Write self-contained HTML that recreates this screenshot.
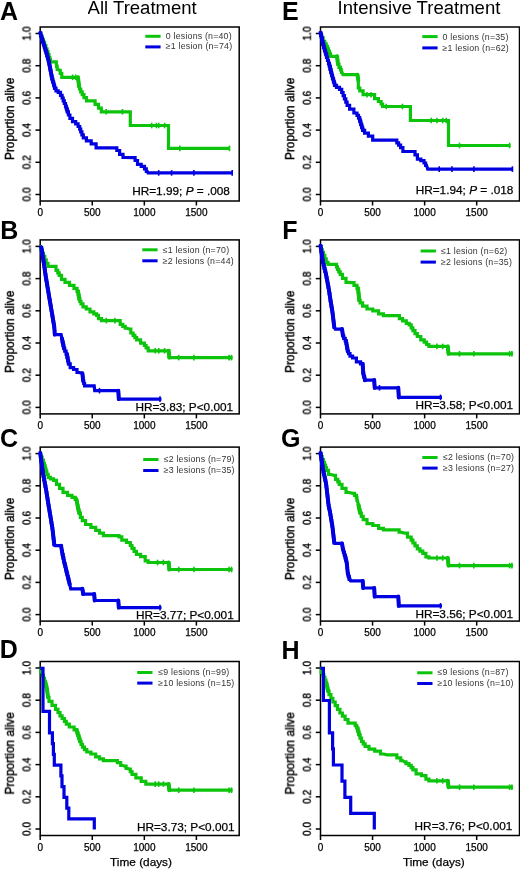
<!DOCTYPE html>
<html><head><meta charset="utf-8"><style>
html,body{margin:0;padding:0;background:#fff;}
svg{display:block;font-family:"Liberation Sans",sans-serif;}
text{will-change:transform;}
.t{stroke:#000;stroke-width:0.25px;}
.r{stroke:#000;stroke-width:0.4px;}
</style></head><body>
<svg width="520" height="870" viewBox="0 0 520 870">
<rect width="520" height="870" fill="#fff"/>
<rect x="40.2" y="27.0" width="199.0" height="174.0" fill="none" stroke="#000" stroke-width="1.5"/>
<line x1="35.5" y1="194.50" x2="40.2" y2="194.50" stroke="#000" stroke-width="1.5"/>
<text transform="translate(30.5,194.50) rotate(-90)" text-anchor="middle" font-size="10" class="r">0.0</text>
<line x1="35.5" y1="162.30" x2="40.2" y2="162.30" stroke="#000" stroke-width="1.5"/>
<text transform="translate(30.5,162.30) rotate(-90)" text-anchor="middle" font-size="10" class="r">0.2</text>
<line x1="35.5" y1="130.10" x2="40.2" y2="130.10" stroke="#000" stroke-width="1.5"/>
<text transform="translate(30.5,130.10) rotate(-90)" text-anchor="middle" font-size="10" class="r">0.4</text>
<line x1="35.5" y1="97.90" x2="40.2" y2="97.90" stroke="#000" stroke-width="1.5"/>
<text transform="translate(30.5,97.90) rotate(-90)" text-anchor="middle" font-size="10" class="r">0.6</text>
<line x1="35.5" y1="65.70" x2="40.2" y2="65.70" stroke="#000" stroke-width="1.5"/>
<text transform="translate(30.5,65.70) rotate(-90)" text-anchor="middle" font-size="10" class="r">0.8</text>
<line x1="35.5" y1="33.50" x2="40.2" y2="33.50" stroke="#000" stroke-width="1.5"/>
<text transform="translate(30.5,33.50) rotate(-90)" text-anchor="middle" font-size="10" class="r">1.0</text>
<line x1="40.20" y1="201.0" x2="40.20" y2="205.5" stroke="#000" stroke-width="1.5"/>
<text x="40.20" y="216.2" text-anchor="middle" font-size="10" class="t">0</text>
<line x1="92.27" y1="201.0" x2="92.27" y2="205.5" stroke="#000" stroke-width="1.5"/>
<text x="92.27" y="216.2" text-anchor="middle" font-size="10" class="t">500</text>
<line x1="144.33" y1="201.0" x2="144.33" y2="205.5" stroke="#000" stroke-width="1.5"/>
<text x="144.33" y="216.2" text-anchor="middle" font-size="10" class="t">1000</text>
<line x1="196.39" y1="201.0" x2="196.39" y2="205.5" stroke="#000" stroke-width="1.5"/>
<text x="196.39" y="216.2" text-anchor="middle" font-size="10" class="t">1500</text>
<text transform="translate(13.9,160.0) rotate(-90)" font-size="11.85" class="r">Proportion alive</text>
<rect x="40.2" y="239.9" width="199.0" height="174.0" fill="none" stroke="#000" stroke-width="1.5"/>
<line x1="35.5" y1="407.40" x2="40.2" y2="407.40" stroke="#000" stroke-width="1.5"/>
<text transform="translate(30.5,407.40) rotate(-90)" text-anchor="middle" font-size="10" class="r">0.0</text>
<line x1="35.5" y1="375.20" x2="40.2" y2="375.20" stroke="#000" stroke-width="1.5"/>
<text transform="translate(30.5,375.20) rotate(-90)" text-anchor="middle" font-size="10" class="r">0.2</text>
<line x1="35.5" y1="343.00" x2="40.2" y2="343.00" stroke="#000" stroke-width="1.5"/>
<text transform="translate(30.5,343.00) rotate(-90)" text-anchor="middle" font-size="10" class="r">0.4</text>
<line x1="35.5" y1="310.80" x2="40.2" y2="310.80" stroke="#000" stroke-width="1.5"/>
<text transform="translate(30.5,310.80) rotate(-90)" text-anchor="middle" font-size="10" class="r">0.6</text>
<line x1="35.5" y1="278.60" x2="40.2" y2="278.60" stroke="#000" stroke-width="1.5"/>
<text transform="translate(30.5,278.60) rotate(-90)" text-anchor="middle" font-size="10" class="r">0.8</text>
<line x1="35.5" y1="246.40" x2="40.2" y2="246.40" stroke="#000" stroke-width="1.5"/>
<text transform="translate(30.5,246.40) rotate(-90)" text-anchor="middle" font-size="10" class="r">1.0</text>
<line x1="40.20" y1="413.9" x2="40.20" y2="418.4" stroke="#000" stroke-width="1.5"/>
<text x="40.20" y="429.1" text-anchor="middle" font-size="10" class="t">0</text>
<line x1="92.27" y1="413.9" x2="92.27" y2="418.4" stroke="#000" stroke-width="1.5"/>
<text x="92.27" y="429.1" text-anchor="middle" font-size="10" class="t">500</text>
<line x1="144.33" y1="413.9" x2="144.33" y2="418.4" stroke="#000" stroke-width="1.5"/>
<text x="144.33" y="429.1" text-anchor="middle" font-size="10" class="t">1000</text>
<line x1="196.39" y1="413.9" x2="196.39" y2="418.4" stroke="#000" stroke-width="1.5"/>
<text x="196.39" y="429.1" text-anchor="middle" font-size="10" class="t">1500</text>
<text transform="translate(13.9,372.9) rotate(-90)" font-size="11.85" class="r">Proportion alive</text>
<rect x="40.2" y="447.1" width="199.0" height="174.0" fill="none" stroke="#000" stroke-width="1.5"/>
<line x1="35.5" y1="614.60" x2="40.2" y2="614.60" stroke="#000" stroke-width="1.5"/>
<text transform="translate(30.5,614.60) rotate(-90)" text-anchor="middle" font-size="10" class="r">0.0</text>
<line x1="35.5" y1="582.40" x2="40.2" y2="582.40" stroke="#000" stroke-width="1.5"/>
<text transform="translate(30.5,582.40) rotate(-90)" text-anchor="middle" font-size="10" class="r">0.2</text>
<line x1="35.5" y1="550.20" x2="40.2" y2="550.20" stroke="#000" stroke-width="1.5"/>
<text transform="translate(30.5,550.20) rotate(-90)" text-anchor="middle" font-size="10" class="r">0.4</text>
<line x1="35.5" y1="518.00" x2="40.2" y2="518.00" stroke="#000" stroke-width="1.5"/>
<text transform="translate(30.5,518.00) rotate(-90)" text-anchor="middle" font-size="10" class="r">0.6</text>
<line x1="35.5" y1="485.80" x2="40.2" y2="485.80" stroke="#000" stroke-width="1.5"/>
<text transform="translate(30.5,485.80) rotate(-90)" text-anchor="middle" font-size="10" class="r">0.8</text>
<line x1="35.5" y1="453.60" x2="40.2" y2="453.60" stroke="#000" stroke-width="1.5"/>
<text transform="translate(30.5,453.60) rotate(-90)" text-anchor="middle" font-size="10" class="r">1.0</text>
<line x1="40.20" y1="621.1" x2="40.20" y2="625.6" stroke="#000" stroke-width="1.5"/>
<text x="40.20" y="636.3" text-anchor="middle" font-size="10" class="t">0</text>
<line x1="92.27" y1="621.1" x2="92.27" y2="625.6" stroke="#000" stroke-width="1.5"/>
<text x="92.27" y="636.3" text-anchor="middle" font-size="10" class="t">500</text>
<line x1="144.33" y1="621.1" x2="144.33" y2="625.6" stroke="#000" stroke-width="1.5"/>
<text x="144.33" y="636.3" text-anchor="middle" font-size="10" class="t">1000</text>
<line x1="196.39" y1="621.1" x2="196.39" y2="625.6" stroke="#000" stroke-width="1.5"/>
<text x="196.39" y="636.3" text-anchor="middle" font-size="10" class="t">1500</text>
<text transform="translate(13.9,580.1) rotate(-90)" font-size="11.85" class="r">Proportion alive</text>
<rect x="40.2" y="661.5" width="199.0" height="174.0" fill="none" stroke="#000" stroke-width="1.5"/>
<line x1="35.5" y1="829.00" x2="40.2" y2="829.00" stroke="#000" stroke-width="1.5"/>
<text transform="translate(30.5,829.00) rotate(-90)" text-anchor="middle" font-size="10" class="r">0.0</text>
<line x1="35.5" y1="796.80" x2="40.2" y2="796.80" stroke="#000" stroke-width="1.5"/>
<text transform="translate(30.5,796.80) rotate(-90)" text-anchor="middle" font-size="10" class="r">0.2</text>
<line x1="35.5" y1="764.60" x2="40.2" y2="764.60" stroke="#000" stroke-width="1.5"/>
<text transform="translate(30.5,764.60) rotate(-90)" text-anchor="middle" font-size="10" class="r">0.4</text>
<line x1="35.5" y1="732.40" x2="40.2" y2="732.40" stroke="#000" stroke-width="1.5"/>
<text transform="translate(30.5,732.40) rotate(-90)" text-anchor="middle" font-size="10" class="r">0.6</text>
<line x1="35.5" y1="700.20" x2="40.2" y2="700.20" stroke="#000" stroke-width="1.5"/>
<text transform="translate(30.5,700.20) rotate(-90)" text-anchor="middle" font-size="10" class="r">0.8</text>
<line x1="35.5" y1="668.00" x2="40.2" y2="668.00" stroke="#000" stroke-width="1.5"/>
<text transform="translate(30.5,668.00) rotate(-90)" text-anchor="middle" font-size="10" class="r">1.0</text>
<line x1="40.20" y1="835.5" x2="40.20" y2="840.0" stroke="#000" stroke-width="1.5"/>
<text x="40.20" y="850.7" text-anchor="middle" font-size="10" class="t">0</text>
<line x1="92.27" y1="835.5" x2="92.27" y2="840.0" stroke="#000" stroke-width="1.5"/>
<text x="92.27" y="850.7" text-anchor="middle" font-size="10" class="t">500</text>
<line x1="144.33" y1="835.5" x2="144.33" y2="840.0" stroke="#000" stroke-width="1.5"/>
<text x="144.33" y="850.7" text-anchor="middle" font-size="10" class="t">1000</text>
<line x1="196.39" y1="835.5" x2="196.39" y2="840.0" stroke="#000" stroke-width="1.5"/>
<text x="196.39" y="850.7" text-anchor="middle" font-size="10" class="t">1500</text>
<text transform="translate(13.9,794.5) rotate(-90)" font-size="11.85" class="r">Proportion alive</text>
<rect x="320.5" y="27.0" width="199.0" height="174.0" fill="none" stroke="#000" stroke-width="1.5"/>
<line x1="315.8" y1="194.50" x2="320.5" y2="194.50" stroke="#000" stroke-width="1.5"/>
<text transform="translate(310.8,194.50) rotate(-90)" text-anchor="middle" font-size="10" class="r">0.0</text>
<line x1="315.8" y1="162.30" x2="320.5" y2="162.30" stroke="#000" stroke-width="1.5"/>
<text transform="translate(310.8,162.30) rotate(-90)" text-anchor="middle" font-size="10" class="r">0.2</text>
<line x1="315.8" y1="130.10" x2="320.5" y2="130.10" stroke="#000" stroke-width="1.5"/>
<text transform="translate(310.8,130.10) rotate(-90)" text-anchor="middle" font-size="10" class="r">0.4</text>
<line x1="315.8" y1="97.90" x2="320.5" y2="97.90" stroke="#000" stroke-width="1.5"/>
<text transform="translate(310.8,97.90) rotate(-90)" text-anchor="middle" font-size="10" class="r">0.6</text>
<line x1="315.8" y1="65.70" x2="320.5" y2="65.70" stroke="#000" stroke-width="1.5"/>
<text transform="translate(310.8,65.70) rotate(-90)" text-anchor="middle" font-size="10" class="r">0.8</text>
<line x1="315.8" y1="33.50" x2="320.5" y2="33.50" stroke="#000" stroke-width="1.5"/>
<text transform="translate(310.8,33.50) rotate(-90)" text-anchor="middle" font-size="10" class="r">1.0</text>
<line x1="320.50" y1="201.0" x2="320.50" y2="205.5" stroke="#000" stroke-width="1.5"/>
<text x="320.50" y="216.2" text-anchor="middle" font-size="10" class="t">0</text>
<line x1="372.56" y1="201.0" x2="372.56" y2="205.5" stroke="#000" stroke-width="1.5"/>
<text x="372.56" y="216.2" text-anchor="middle" font-size="10" class="t">500</text>
<line x1="424.63" y1="201.0" x2="424.63" y2="205.5" stroke="#000" stroke-width="1.5"/>
<text x="424.63" y="216.2" text-anchor="middle" font-size="10" class="t">1000</text>
<line x1="476.69" y1="201.0" x2="476.69" y2="205.5" stroke="#000" stroke-width="1.5"/>
<text x="476.69" y="216.2" text-anchor="middle" font-size="10" class="t">1500</text>
<text transform="translate(294.2,160.0) rotate(-90)" font-size="11.85" class="r">Proportion alive</text>
<rect x="320.5" y="239.9" width="199.0" height="174.0" fill="none" stroke="#000" stroke-width="1.5"/>
<line x1="315.8" y1="407.40" x2="320.5" y2="407.40" stroke="#000" stroke-width="1.5"/>
<text transform="translate(310.8,407.40) rotate(-90)" text-anchor="middle" font-size="10" class="r">0.0</text>
<line x1="315.8" y1="375.20" x2="320.5" y2="375.20" stroke="#000" stroke-width="1.5"/>
<text transform="translate(310.8,375.20) rotate(-90)" text-anchor="middle" font-size="10" class="r">0.2</text>
<line x1="315.8" y1="343.00" x2="320.5" y2="343.00" stroke="#000" stroke-width="1.5"/>
<text transform="translate(310.8,343.00) rotate(-90)" text-anchor="middle" font-size="10" class="r">0.4</text>
<line x1="315.8" y1="310.80" x2="320.5" y2="310.80" stroke="#000" stroke-width="1.5"/>
<text transform="translate(310.8,310.80) rotate(-90)" text-anchor="middle" font-size="10" class="r">0.6</text>
<line x1="315.8" y1="278.60" x2="320.5" y2="278.60" stroke="#000" stroke-width="1.5"/>
<text transform="translate(310.8,278.60) rotate(-90)" text-anchor="middle" font-size="10" class="r">0.8</text>
<line x1="315.8" y1="246.40" x2="320.5" y2="246.40" stroke="#000" stroke-width="1.5"/>
<text transform="translate(310.8,246.40) rotate(-90)" text-anchor="middle" font-size="10" class="r">1.0</text>
<line x1="320.50" y1="413.9" x2="320.50" y2="418.4" stroke="#000" stroke-width="1.5"/>
<text x="320.50" y="429.1" text-anchor="middle" font-size="10" class="t">0</text>
<line x1="372.56" y1="413.9" x2="372.56" y2="418.4" stroke="#000" stroke-width="1.5"/>
<text x="372.56" y="429.1" text-anchor="middle" font-size="10" class="t">500</text>
<line x1="424.63" y1="413.9" x2="424.63" y2="418.4" stroke="#000" stroke-width="1.5"/>
<text x="424.63" y="429.1" text-anchor="middle" font-size="10" class="t">1000</text>
<line x1="476.69" y1="413.9" x2="476.69" y2="418.4" stroke="#000" stroke-width="1.5"/>
<text x="476.69" y="429.1" text-anchor="middle" font-size="10" class="t">1500</text>
<text transform="translate(294.2,372.9) rotate(-90)" font-size="11.85" class="r">Proportion alive</text>
<rect x="320.5" y="447.1" width="199.0" height="174.0" fill="none" stroke="#000" stroke-width="1.5"/>
<line x1="315.8" y1="614.60" x2="320.5" y2="614.60" stroke="#000" stroke-width="1.5"/>
<text transform="translate(310.8,614.60) rotate(-90)" text-anchor="middle" font-size="10" class="r">0.0</text>
<line x1="315.8" y1="582.40" x2="320.5" y2="582.40" stroke="#000" stroke-width="1.5"/>
<text transform="translate(310.8,582.40) rotate(-90)" text-anchor="middle" font-size="10" class="r">0.2</text>
<line x1="315.8" y1="550.20" x2="320.5" y2="550.20" stroke="#000" stroke-width="1.5"/>
<text transform="translate(310.8,550.20) rotate(-90)" text-anchor="middle" font-size="10" class="r">0.4</text>
<line x1="315.8" y1="518.00" x2="320.5" y2="518.00" stroke="#000" stroke-width="1.5"/>
<text transform="translate(310.8,518.00) rotate(-90)" text-anchor="middle" font-size="10" class="r">0.6</text>
<line x1="315.8" y1="485.80" x2="320.5" y2="485.80" stroke="#000" stroke-width="1.5"/>
<text transform="translate(310.8,485.80) rotate(-90)" text-anchor="middle" font-size="10" class="r">0.8</text>
<line x1="315.8" y1="453.60" x2="320.5" y2="453.60" stroke="#000" stroke-width="1.5"/>
<text transform="translate(310.8,453.60) rotate(-90)" text-anchor="middle" font-size="10" class="r">1.0</text>
<line x1="320.50" y1="621.1" x2="320.50" y2="625.6" stroke="#000" stroke-width="1.5"/>
<text x="320.50" y="636.3" text-anchor="middle" font-size="10" class="t">0</text>
<line x1="372.56" y1="621.1" x2="372.56" y2="625.6" stroke="#000" stroke-width="1.5"/>
<text x="372.56" y="636.3" text-anchor="middle" font-size="10" class="t">500</text>
<line x1="424.63" y1="621.1" x2="424.63" y2="625.6" stroke="#000" stroke-width="1.5"/>
<text x="424.63" y="636.3" text-anchor="middle" font-size="10" class="t">1000</text>
<line x1="476.69" y1="621.1" x2="476.69" y2="625.6" stroke="#000" stroke-width="1.5"/>
<text x="476.69" y="636.3" text-anchor="middle" font-size="10" class="t">1500</text>
<text transform="translate(294.2,580.1) rotate(-90)" font-size="11.85" class="r">Proportion alive</text>
<rect x="320.5" y="661.5" width="199.0" height="174.0" fill="none" stroke="#000" stroke-width="1.5"/>
<line x1="315.8" y1="829.00" x2="320.5" y2="829.00" stroke="#000" stroke-width="1.5"/>
<text transform="translate(310.8,829.00) rotate(-90)" text-anchor="middle" font-size="10" class="r">0.0</text>
<line x1="315.8" y1="796.80" x2="320.5" y2="796.80" stroke="#000" stroke-width="1.5"/>
<text transform="translate(310.8,796.80) rotate(-90)" text-anchor="middle" font-size="10" class="r">0.2</text>
<line x1="315.8" y1="764.60" x2="320.5" y2="764.60" stroke="#000" stroke-width="1.5"/>
<text transform="translate(310.8,764.60) rotate(-90)" text-anchor="middle" font-size="10" class="r">0.4</text>
<line x1="315.8" y1="732.40" x2="320.5" y2="732.40" stroke="#000" stroke-width="1.5"/>
<text transform="translate(310.8,732.40) rotate(-90)" text-anchor="middle" font-size="10" class="r">0.6</text>
<line x1="315.8" y1="700.20" x2="320.5" y2="700.20" stroke="#000" stroke-width="1.5"/>
<text transform="translate(310.8,700.20) rotate(-90)" text-anchor="middle" font-size="10" class="r">0.8</text>
<line x1="315.8" y1="668.00" x2="320.5" y2="668.00" stroke="#000" stroke-width="1.5"/>
<text transform="translate(310.8,668.00) rotate(-90)" text-anchor="middle" font-size="10" class="r">1.0</text>
<line x1="320.50" y1="835.5" x2="320.50" y2="840.0" stroke="#000" stroke-width="1.5"/>
<text x="320.50" y="850.7" text-anchor="middle" font-size="10" class="t">0</text>
<line x1="372.56" y1="835.5" x2="372.56" y2="840.0" stroke="#000" stroke-width="1.5"/>
<text x="372.56" y="850.7" text-anchor="middle" font-size="10" class="t">500</text>
<line x1="424.63" y1="835.5" x2="424.63" y2="840.0" stroke="#000" stroke-width="1.5"/>
<text x="424.63" y="850.7" text-anchor="middle" font-size="10" class="t">1000</text>
<line x1="476.69" y1="835.5" x2="476.69" y2="840.0" stroke="#000" stroke-width="1.5"/>
<text x="476.69" y="850.7" text-anchor="middle" font-size="10" class="t">1500</text>
<text transform="translate(294.2,794.5) rotate(-90)" font-size="11.85" class="r">Proportion alive</text>
<path d="M40.2,34.0 L40.8,34.0 L40.8,36.8 L42.1,36.8 L42.1,39.5 L43.4,39.5 L43.4,42.3 L44.0,42.3 L44.6,42.3 L44.6,45.5 L45.9,45.5 L45.9,48.8 L46.5,48.8 L47.0,48.8 L47.0,51.6 L48.0,51.6 L48.0,54.5 L49.0,54.5 L49.0,57.3 L49.5,57.3 L49.8,57.3 L49.8,59.5 L50.4,59.5 L50.4,61.8 L50.7,61.8 L56.3,61.8 L56.5,66.3 L57.2,66.3 L57.2,69.3 L58.0,69.3 L59.5,70.3 L60.2,70.3 L60.2,73.3 L61.0,73.3 L61.8,73.3 L61.8,77.3 L62.6,77.3 L78.0,77.3 L79.0,86.3 L79.5,86.3 L79.5,89.0 L80.7,89.0 L80.7,91.8 L81.2,91.8 L82.2,91.8 L82.2,94.7 L84.0,94.7 L84.0,97.6 L85.0,97.6 L86.5,97.6 L86.5,100.8 L87.9,100.8 L93.7,100.8 L95.1,100.8 L95.1,104.3 L96.5,104.3 L98.5,104.3 L98.5,108.2 L100.4,108.2 L101.3,108.2 L101.3,111.8 L102.3,111.8 L130.3,111.8 L130.3,125.5 L168.5,125.5 L168.5,148.4 L230.0,148.4" fill="none" stroke="#0cc40c" stroke-width="3.2" stroke-linejoin="miter" stroke-linecap="butt"/><path d="M78.0,77.3 L79.0,86.3" fill="none" stroke="#0cc40c" stroke-width="4" stroke-linecap="round"/>
<line x1="72.6" y1="74.5" x2="72.6" y2="80.1" stroke="#0cc40c" stroke-width="1.6"/>
<line x1="75.7" y1="74.5" x2="75.7" y2="80.1" stroke="#0cc40c" stroke-width="1.6"/>
<line x1="106.2" y1="109.0" x2="106.2" y2="114.6" stroke="#0cc40c" stroke-width="1.6"/>
<line x1="122.5" y1="109.0" x2="122.5" y2="114.6" stroke="#0cc40c" stroke-width="1.6"/>
<line x1="151.7" y1="122.7" x2="151.7" y2="128.3" stroke="#0cc40c" stroke-width="1.6"/>
<line x1="156.4" y1="122.7" x2="156.4" y2="128.3" stroke="#0cc40c" stroke-width="1.6"/>
<line x1="158.7" y1="122.7" x2="158.7" y2="128.3" stroke="#0cc40c" stroke-width="1.6"/>
<line x1="164.6" y1="122.7" x2="164.6" y2="128.3" stroke="#0cc40c" stroke-width="1.6"/>
<line x1="179.8" y1="145.6" x2="179.8" y2="151.2" stroke="#0cc40c" stroke-width="1.6"/>
<line x1="229.5" y1="145.6" x2="229.5" y2="151.2" stroke="#0cc40c" stroke-width="1.6"/>
<path d="M40.2,32.8 L40.7,32.8 L40.7,35.8 L41.6,35.8 L41.6,38.8 L42.5,38.8 L42.5,41.8 L43.0,41.8 L43.5,41.8 L43.5,44.6 L44.4,44.6 L44.4,47.5 L45.2,47.5 L45.2,50.3 L45.7,50.3 L46.1,50.3 L46.1,53.0 L46.9,53.0 L46.9,55.8 L47.6,55.8 L47.6,58.5 L48.4,58.5 L48.4,61.3 L48.8,61.3 L49.1,61.3 L49.1,64.2 L49.6,64.2 L49.6,67.1 L50.2,67.1 L50.2,70.0 L50.8,70.0 L50.8,73.0 L51.4,73.0 L51.4,75.9 L51.9,75.9 L51.9,78.8 L52.2,78.8 L52.7,78.8 L52.7,82.0 L53.6,82.0 L53.6,85.1 L54.5,85.1 L54.5,88.3 L55.0,88.3 L56.0,88.3 L56.0,90.8 L57.0,90.8 L58.2,90.8 L58.2,92.3 L59.5,92.3 L60.5,92.3 L60.5,95.3 L61.5,95.3 L62.1,95.3 L62.1,98.0 L63.2,98.0 L63.2,100.8 L63.8,100.8 L64.3,100.8 L64.3,103.5 L65.5,103.5 L65.5,106.3 L66.0,106.3 L66.4,106.3 L66.4,109.0 L67.3,109.0 L67.3,111.8 L67.7,111.8 L68.4,111.8 L68.4,115.0 L69.9,115.0 L69.9,118.3 L70.6,118.3 L72.5,118.3 L72.5,121.6 L74.4,121.6 L75.7,121.6 L75.7,123.8 L77.0,123.8 L78.1,123.8 L78.1,126.5 L79.2,126.5 L79.7,126.5 L79.7,129.2 L80.7,129.2 L80.7,131.8 L81.2,131.8 L81.9,131.8 L81.9,134.8 L83.3,134.8 L83.3,137.8 L84.0,137.8 L86.4,137.8 L86.4,140.9 L88.8,140.9 L91.2,140.9 L91.2,143.8 L93.7,143.8 L96.1,143.8 L96.1,147.8 L98.5,147.8 L116.0,147.8 L116.8,147.8 L116.8,150.5 L117.7,150.5 L119.6,150.5 L119.6,154.3 L121.5,154.3 L123.0,154.3 L123.0,157.5 L124.4,157.5 L134.0,157.6 L135.1,157.6 L135.1,160.5 L136.2,160.5 L137.5,160.5 L137.5,164.3 L138.8,164.3 L141.2,164.3 L141.2,166.3 L143.6,166.3 L144.5,166.3 L144.5,168.8 L146.3,168.8 L146.3,171.3 L147.2,171.3 L148.0,172.9 L232.5,172.9" fill="none" stroke="#0000e0" stroke-width="3.2" stroke-linejoin="miter" stroke-linecap="butt"/><path d="M40.2,32.8 L43.0,41.8 M43.0,41.8 L45.7,50.3 M45.7,50.3 L48.8,61.3 M48.8,61.3 L52.2,78.8 M52.2,78.8 L55.0,88.3 M66.0,106.3 L67.7,111.8" fill="none" stroke="#0000e0" stroke-width="4" stroke-linecap="round"/>
<line x1="158.7" y1="170.1" x2="158.7" y2="175.7" stroke="#0000e0" stroke-width="1.6"/>
<line x1="171.6" y1="170.1" x2="171.6" y2="175.7" stroke="#0000e0" stroke-width="1.6"/>
<line x1="193.9" y1="170.1" x2="193.9" y2="175.7" stroke="#0000e0" stroke-width="1.6"/>
<line x1="232.2" y1="170.1" x2="232.2" y2="175.7" stroke="#0000e0" stroke-width="1.6"/>
<path d="M320.5,34.0 L321.4,34.0 L321.4,37.6 L323.1,37.6 L323.1,41.3 L324.0,41.3 L324.8,41.3 L324.8,43.8 L326.2,43.8 L326.2,46.3 L327.0,46.3 L327.5,46.3 L327.5,48.8 L328.5,48.8 L328.5,51.3 L329.0,51.3 L329.5,51.3 L329.5,53.8 L330.5,53.8 L330.5,56.3 L331.0,56.3 L337.0,56.3 L338.0,64.3 L339.0,64.3 L339.0,67.3 L340.0,67.3 L340.5,67.3 L340.5,69.8 L341.5,69.8 L341.5,72.3 L342.0,72.3 L343.0,74.7 L357.5,74.7 L358.3,80.3 L358.3,88.0 L359.8,88.0 L359.8,90.9 L361.2,90.9 L363.1,90.9 L363.1,94.7 L365.0,94.7 L372.7,94.7 L374.6,94.7 L374.6,98.6 L376.5,98.6 L378.4,98.6 L378.4,101.5 L380.4,101.5 L381.1,101.5 L381.1,104.0 L382.6,104.0 L382.6,106.5 L383.3,106.5 L410.4,106.5 L410.4,120.5 L448.5,120.5 L448.5,145.5 L510.5,145.5" fill="none" stroke="#0cc40c" stroke-width="3.2" stroke-linejoin="miter" stroke-linecap="butt"/><path d="M337.0,56.3 L338.0,64.3 M357.5,74.7 L358.3,80.3" fill="none" stroke="#0cc40c" stroke-width="4" stroke-linecap="round"/>
<line x1="367.0" y1="91.9" x2="367.0" y2="97.5" stroke="#0cc40c" stroke-width="1.6"/>
<line x1="371.0" y1="91.9" x2="371.0" y2="97.5" stroke="#0cc40c" stroke-width="1.6"/>
<line x1="386.2" y1="103.7" x2="386.2" y2="109.3" stroke="#0cc40c" stroke-width="1.6"/>
<line x1="402.5" y1="103.7" x2="402.5" y2="109.3" stroke="#0cc40c" stroke-width="1.6"/>
<line x1="431.2" y1="117.7" x2="431.2" y2="123.3" stroke="#0cc40c" stroke-width="1.6"/>
<line x1="436.9" y1="117.7" x2="436.9" y2="123.3" stroke="#0cc40c" stroke-width="1.6"/>
<line x1="442.7" y1="117.7" x2="442.7" y2="123.3" stroke="#0cc40c" stroke-width="1.6"/>
<line x1="446.2" y1="117.7" x2="446.2" y2="123.3" stroke="#0cc40c" stroke-width="1.6"/>
<line x1="459.5" y1="142.7" x2="459.5" y2="148.3" stroke="#0cc40c" stroke-width="1.6"/>
<line x1="509.6" y1="142.7" x2="509.6" y2="148.3" stroke="#0cc40c" stroke-width="1.6"/>
<path d="M320.5,32.8 L320.9,32.8 L320.9,35.7 L321.6,35.7 L321.6,38.6 L322.2,38.6 L322.2,41.5 L322.9,41.5 L322.9,44.4 L323.6,44.4 L323.6,47.3 L324.0,47.3 L324.5,47.3 L324.5,50.6 L325.5,50.6 L325.5,54.0 L326.5,54.0 L326.5,57.3 L327.0,57.3 L327.5,57.3 L327.5,60.3 L328.5,60.3 L328.5,63.3 L329.0,63.3 L329.4,63.3 L329.4,66.3 L330.1,66.3 L330.1,69.3 L330.9,69.3 L330.9,72.3 L331.6,72.3 L331.6,75.3 L332.0,75.3 L332.5,75.3 L332.5,78.6 L333.5,78.6 L333.5,82.0 L334.5,82.0 L334.5,85.3 L335.0,85.3 L336.5,85.3 L336.5,87.3 L338.0,87.3 L339.5,87.3 L339.5,89.3 L341.0,89.3 L341.7,89.3 L341.7,92.5 L343.1,92.5 L343.1,95.7 L343.8,95.7 L344.4,95.7 L344.4,98.9 L345.8,98.9 L345.8,102.1 L347.1,102.1 L347.1,105.3 L347.7,105.3 L349.6,105.3 L349.6,109.1 L351.5,109.1 L353.9,109.1 L353.9,113.0 L356.3,113.0 L357.0,113.0 L357.0,115.4 L358.5,115.4 L358.5,117.8 L359.2,117.8 L359.7,117.8 L359.7,121.2 L360.7,121.2 L360.7,124.5 L361.2,124.5 L361.7,124.5 L361.7,127.4 L362.6,127.4 L362.6,130.3 L363.1,130.3 L364.6,130.3 L364.6,133.2 L366.0,133.2 L368.4,133.2 L368.4,136.1 L370.8,136.1 L372.7,136.1 L372.7,140.1 L374.6,140.1 L395.8,140.1 L396.8,140.1 L396.8,142.8 L397.7,142.8 L398.6,142.8 L398.6,145.2 L400.6,145.2 L400.6,147.6 L401.5,147.6 L402.9,147.6 L402.9,151.5 L404.4,151.5 L413.8,151.5 L415.0,151.5 L415.0,154.9 L416.2,154.9 L417.4,154.9 L417.4,159.1 L418.5,159.1 L420.8,159.1 L420.8,160.7 L423.1,160.7 L424.0,160.7 L424.0,163.0 L425.6,163.0 L425.6,165.3 L426.5,165.3 L427.7,169.1 L513.1,169.1" fill="none" stroke="#0000e0" stroke-width="3.2" stroke-linejoin="miter" stroke-linecap="butt"/><path d="M320.5,32.8 L324.0,47.3 M324.0,47.3 L327.0,57.3 M329.0,63.3 L332.0,75.3 M332.0,75.3 L335.0,85.3 M359.2,117.8 L361.2,124.5 M361.2,124.5 L363.1,130.3" fill="none" stroke="#0000e0" stroke-width="4" stroke-linecap="round"/>
<line x1="439.2" y1="166.3" x2="439.2" y2="171.9" stroke="#0000e0" stroke-width="1.6"/>
<line x1="451.9" y1="166.3" x2="451.9" y2="171.9" stroke="#0000e0" stroke-width="1.6"/>
<line x1="473.9" y1="166.3" x2="473.9" y2="171.9" stroke="#0000e0" stroke-width="1.6"/>
<line x1="512.4" y1="166.3" x2="512.4" y2="171.9" stroke="#0000e0" stroke-width="1.6"/>
<path d="M40.2,246.7 L40.8,246.7 L40.8,249.9 L42.1,249.9 L42.1,253.1 L43.4,253.1 L43.4,256.3 L44.0,256.3 L44.8,256.3 L44.8,259.8 L46.2,259.8 L46.2,263.3 L47.0,263.3 L48.0,263.3 L48.0,266.3 L49.0,266.3 L55.0,266.3 L56.0,266.3 L56.0,270.3 L57.0,270.3 L57.8,270.3 L57.8,272.8 L59.2,272.8 L59.2,275.3 L60.0,275.3 L61.5,275.3 L61.5,279.3 L63.0,279.3 L65.0,279.3 L65.0,282.3 L67.0,282.3 L69.5,282.3 L69.5,285.3 L72.0,285.3 L74.0,285.3 L74.0,288.3 L76.0,288.3 L77.0,288.3 L77.0,291.3 L78.0,291.3 L78.3,291.3 L78.3,295.1 L79.0,295.1 L79.0,298.8 L79.3,298.8 L79.8,298.8 L79.8,301.3 L81.0,301.3 L81.0,303.8 L81.5,303.8 L83.0,303.8 L83.0,306.8 L84.5,306.8 L86.2,306.8 L86.2,309.0 L88.0,309.0 L90.0,309.0 L90.0,311.8 L92.0,311.8 L93.8,311.8 L93.8,313.8 L95.7,313.8 L96.6,313.8 L96.6,315.3 L97.5,315.3 L98.5,315.3 L98.5,318.6 L99.5,318.6 L101.5,318.6 L101.5,320.6 L103.4,320.6 L118.8,320.6 L120.2,320.6 L120.2,324.3 L121.7,324.3 L122.8,324.3 L122.8,326.3 L124.0,326.3 L125.2,326.3 L125.2,328.2 L126.5,328.2 L129.4,329.0 L130.8,329.0 L130.8,333.0 L132.2,333.0 L133.1,333.0 L133.1,335.3 L134.0,335.3 L134.9,335.3 L134.9,337.6 L136.7,337.6 L136.7,339.8 L137.6,339.8 L140.6,339.8 L140.6,343.1 L143.5,343.1 L144.4,343.1 L144.4,345.5 L146.1,345.5 L146.1,347.8 L147.0,347.8 L148.2,347.8 L148.2,350.8 L149.3,350.8 L168.7,350.8 L169.3,357.6 L232.6,357.6" fill="none" stroke="#0cc40c" stroke-width="3.2" stroke-linejoin="miter" stroke-linecap="butt"/><path d="M78.0,291.3 L79.3,298.8 M168.7,350.8 L169.3,357.6" fill="none" stroke="#0cc40c" stroke-width="4" stroke-linecap="round"/>
<line x1="106.3" y1="317.8" x2="106.3" y2="323.4" stroke="#0cc40c" stroke-width="1.6"/>
<line x1="114.9" y1="317.8" x2="114.9" y2="323.4" stroke="#0cc40c" stroke-width="1.6"/>
<line x1="155.2" y1="348.0" x2="155.2" y2="353.6" stroke="#0cc40c" stroke-width="1.6"/>
<line x1="158.7" y1="348.0" x2="158.7" y2="353.6" stroke="#0cc40c" stroke-width="1.6"/>
<line x1="164.6" y1="348.0" x2="164.6" y2="353.6" stroke="#0cc40c" stroke-width="1.6"/>
<line x1="178.7" y1="354.8" x2="178.7" y2="360.4" stroke="#0cc40c" stroke-width="1.6"/>
<line x1="193.9" y1="354.8" x2="193.9" y2="360.4" stroke="#0cc40c" stroke-width="1.6"/>
<line x1="229.1" y1="354.8" x2="229.1" y2="360.4" stroke="#0cc40c" stroke-width="1.6"/>
<line x1="231.5" y1="354.8" x2="231.5" y2="360.4" stroke="#0cc40c" stroke-width="1.6"/>
<path d="M40.2,245.8 L41.3,247.6 L41.6,247.6 L41.6,250.9 L42.1,250.9 L42.1,254.3 L42.7,254.3 L42.7,257.6 L43.2,257.6 L43.2,260.9 L43.5,260.9 L43.7,260.9 L43.7,263.7 L44.1,263.7 L44.1,266.4 L44.5,266.4 L44.5,269.2 L44.9,269.2 L44.9,271.9 L45.3,271.9 L45.3,274.7 L45.7,274.7 L45.7,277.4 L45.9,277.4 L46.1,277.4 L46.1,280.2 L46.6,280.2 L46.6,282.9 L47.1,282.9 L47.1,285.7 L47.5,285.7 L47.5,288.5 L48.0,288.5 L48.0,291.2 L48.5,291.2 L48.5,294.0 L48.7,294.0 L48.9,294.0 L48.9,296.8 L49.4,296.8 L49.4,299.5 L49.9,299.5 L49.9,302.2 L50.3,302.2 L50.3,305.0 L50.8,305.0 L50.8,307.8 L51.3,307.8 L51.3,310.5 L51.5,310.5 L51.7,310.5 L51.7,313.3 L52.2,313.3 L52.2,316.0 L52.7,316.0 L52.7,318.8 L53.1,318.8 L53.1,321.6 L53.6,321.6 L53.6,324.3 L54.1,324.3 L54.1,327.1 L54.3,327.1 L54.8,334.6 L61.1,334.6 L62.0,338.8 L62.3,338.8 L62.3,342.0 L63.0,342.0 L63.0,345.1 L63.7,345.1 L63.7,348.3 L64.0,348.3 L64.7,348.3 L64.7,351.2 L66.1,351.2 L66.1,354.1 L66.8,354.1 L67.1,354.1 L67.1,357.3 L67.8,357.3 L67.8,360.6 L68.5,360.6 L68.5,363.8 L68.8,363.8 L70.2,363.8 L70.2,367.6 L71.7,367.6 L73.6,367.6 L73.6,369.5 L75.5,369.5 L77.0,369.5 L77.0,372.4 L78.4,372.4 L82.4,373.3 L83.2,381.1 L83.7,381.1 L83.7,383.5 L84.6,383.5 L84.6,385.9 L85.1,385.9 L94.2,385.9 L94.7,390.7 L118.3,390.7 L118.8,399.1 L161.5,399.1" fill="none" stroke="#0000e0" stroke-width="3.2" stroke-linejoin="miter" stroke-linecap="butt"/><path d="M41.3,247.6 L43.5,260.9 M43.5,260.9 L45.9,277.4 M45.9,277.4 L48.7,294.0 M48.7,294.0 L51.5,310.5 M51.5,310.5 L54.3,327.1 M54.3,327.1 L54.8,334.6 M62.0,338.8 L64.0,348.3 M66.8,354.1 L68.8,363.8 M82.4,373.3 L83.2,381.1 M118.3,390.7 L118.8,399.1" fill="none" stroke="#0000e0" stroke-width="4" stroke-linecap="round"/>
<line x1="99.5" y1="387.9" x2="99.5" y2="393.5" stroke="#0000e0" stroke-width="1.6"/>
<line x1="160.0" y1="396.3" x2="160.0" y2="401.9" stroke="#0000e0" stroke-width="1.6"/>
<path d="M320.5,246.7 L321.1,246.7 L321.1,249.6 L322.2,249.6 L322.2,252.4 L323.4,252.4 L323.4,255.3 L324.0,255.3 L324.8,255.3 L324.8,258.8 L326.2,258.8 L326.2,262.3 L327.0,262.3 L328.0,262.3 L328.0,264.3 L329.0,264.3 L336.0,264.3 L336.5,264.3 L336.5,266.8 L337.5,266.8 L337.5,269.3 L338.0,269.3 L338.8,269.3 L338.8,271.8 L340.2,271.8 L340.2,274.3 L341.0,274.3 L342.5,274.3 L342.5,278.3 L344.0,278.3 L346.0,278.3 L346.0,282.3 L348.0,282.3 L352.0,282.7 L354.0,282.7 L354.0,285.3 L356.0,285.3 L357.0,285.3 L357.0,288.3 L358.0,288.3 L358.2,288.3 L358.2,291.3 L358.5,291.3 L358.5,294.3 L358.8,294.3 L358.8,297.3 L359.1,297.3 L359.1,300.3 L359.3,300.3 L360.1,300.3 L360.1,302.8 L361.0,302.8 L362.6,302.8 L362.6,306.1 L364.2,306.1 L367.0,306.1 L367.0,309.0 L369.9,309.0 L372.8,309.0 L372.8,310.9 L375.7,310.9 L378.6,310.9 L378.6,313.8 L381.5,313.8 L383.4,313.8 L383.4,315.7 L385.3,315.7 L398.0,315.7 L399.4,315.7 L399.4,318.6 L400.7,318.6 L402.6,318.6 L402.6,320.8 L404.6,320.8 L406.3,320.8 L406.3,323.3 L408.0,323.3 L409.2,323.3 L409.2,324.9 L410.4,324.9 L411.2,324.9 L411.2,327.8 L412.9,327.8 L412.9,330.7 L413.8,330.7 L415.0,330.7 L415.0,333.6 L417.3,333.6 L417.3,336.5 L418.5,336.5 L420.8,336.5 L420.8,339.9 L423.1,339.9 L424.2,339.9 L424.2,342.2 L426.6,342.2 L426.6,344.5 L427.7,344.5 L428.9,344.5 L428.9,346.4 L430.0,346.4 L447.8,346.4 L448.5,353.8 L513.1,353.8" fill="none" stroke="#0cc40c" stroke-width="3.2" stroke-linejoin="miter" stroke-linecap="butt"/><path d="M358.0,288.3 L359.3,300.3 M447.8,346.4 L448.5,353.8" fill="none" stroke="#0cc40c" stroke-width="4" stroke-linecap="round"/>
<line x1="436.9" y1="343.6" x2="436.9" y2="349.2" stroke="#0cc40c" stroke-width="1.6"/>
<line x1="442.7" y1="343.6" x2="442.7" y2="349.2" stroke="#0cc40c" stroke-width="1.6"/>
<line x1="459.5" y1="351.0" x2="459.5" y2="356.6" stroke="#0cc40c" stroke-width="1.6"/>
<line x1="473.8" y1="351.0" x2="473.8" y2="356.6" stroke="#0cc40c" stroke-width="1.6"/>
<line x1="509.6" y1="351.0" x2="509.6" y2="356.6" stroke="#0cc40c" stroke-width="1.6"/>
<line x1="511.9" y1="351.0" x2="511.9" y2="356.6" stroke="#0cc40c" stroke-width="1.6"/>
<path d="M320.5,245.8 L320.7,245.8 L320.7,248.6 L321.1,248.6 L321.1,251.3 L321.5,251.3 L321.5,254.1 L322.0,254.1 L322.0,256.8 L322.4,256.8 L322.4,259.6 L322.8,259.6 L322.8,262.3 L323.0,262.3 L323.4,262.3 L323.4,265.3 L324.1,265.3 L324.1,268.3 L324.9,268.3 L324.9,271.3 L325.6,271.3 L325.6,274.3 L326.0,274.3 L326.3,274.3 L326.3,277.5 L326.9,277.5 L326.9,280.7 L327.5,280.7 L327.5,283.9 L328.1,283.9 L328.1,287.1 L328.7,287.1 L328.7,290.3 L329.0,290.3 L329.2,290.3 L329.2,293.6 L329.8,293.6 L329.8,297.0 L330.2,297.0 L330.2,300.3 L330.5,300.3 L330.7,300.3 L330.7,303.2 L331.2,303.2 L331.2,306.1 L331.7,306.1 L331.7,308.9 L332.2,308.9 L332.2,311.8 L332.4,311.8 L332.6,311.8 L332.6,314.9 L333.0,314.9 L333.0,318.0 L333.4,318.0 L333.4,321.0 L333.7,321.0 L333.7,324.1 L334.1,324.1 L334.1,327.2 L334.3,327.2 L335.3,329.1 L342.0,329.1 L343.0,335.9 L343.7,335.9 L343.7,338.3 L345.2,338.3 L345.2,340.7 L345.9,340.7 L346.1,340.7 L346.1,343.4 L346.6,343.4 L346.6,346.0 L347.1,346.0 L347.1,348.6 L347.6,348.6 L347.6,351.3 L347.8,351.3 L348.5,351.3 L348.5,353.7 L350.0,353.7 L350.0,356.1 L350.7,356.1 L352.6,356.1 L352.6,358.0 L354.5,358.0 L356.4,358.0 L356.4,361.8 L358.4,361.8 L360.5,361.8 L360.5,363.8 L362.7,363.8 L363.2,373.4 L363.7,373.4 L363.7,376.8 L364.6,376.8 L364.6,380.1 L365.1,380.1 L374.2,380.1 L374.7,387.8 L398.3,387.8 L398.8,397.4 L442.0,397.4" fill="none" stroke="#0000e0" stroke-width="3.2" stroke-linejoin="miter" stroke-linecap="butt"/><path d="M320.5,245.8 L323.0,262.3 M323.0,262.3 L326.0,274.3 M326.0,274.3 L329.0,290.3 M329.0,290.3 L330.5,300.3 M330.5,300.3 L332.4,311.8 M332.4,311.8 L334.3,327.2 M342.0,329.1 L343.0,335.9 M345.9,340.7 L347.8,351.3 M362.7,363.8 L363.2,373.4 M363.2,373.4 L365.1,380.1 M374.2,380.1 L374.7,387.8 M398.3,387.8 L398.8,397.4" fill="none" stroke="#0000e0" stroke-width="4" stroke-linecap="round"/>
<line x1="379.5" y1="385.0" x2="379.5" y2="390.6" stroke="#0000e0" stroke-width="1.6"/>
<line x1="440.5" y1="394.6" x2="440.5" y2="400.2" stroke="#0000e0" stroke-width="1.6"/>
<path d="M40.2,453.9 L40.8,453.9 L40.8,457.0 L42.1,457.0 L42.1,460.2 L43.4,460.2 L43.4,463.3 L44.0,463.3 L44.3,463.3 L44.3,466.0 L45.0,466.0 L45.0,468.6 L45.7,468.6 L45.7,471.3 L46.0,471.3 L46.8,471.3 L46.8,474.3 L48.2,474.3 L48.2,477.3 L49.0,477.3 L50.5,477.3 L50.5,478.9 L52.0,478.9 L53.5,478.9 L53.5,480.3 L55.0,480.3 L56.5,480.3 L56.5,484.3 L58.0,484.3 L59.5,484.3 L59.5,488.3 L61.0,488.3 L63.0,488.3 L63.0,492.3 L65.0,492.3 L67.5,492.3 L67.5,495.3 L70.0,495.3 L72.0,495.3 L72.0,497.3 L74.0,497.3 L75.2,497.3 L75.2,499.3 L76.5,499.3 L77.5,505.3 L77.8,505.3 L77.8,507.9 L78.4,507.9 L78.4,510.4 L79.0,510.4 L79.0,513.0 L79.3,513.0 L80.4,513.0 L80.4,517.3 L81.5,517.3 L82.3,517.3 L82.3,520.7 L83.2,520.7 L85.6,520.7 L85.6,524.5 L88.0,524.5 L90.9,524.5 L90.9,527.4 L93.8,527.4 L95.7,527.4 L95.7,530.3 L97.6,530.3 L99.5,530.3 L99.5,533.2 L101.5,533.2 L103.4,533.2 L103.4,535.6 L105.3,535.6 L118.0,535.6 L119.0,535.6 L119.0,536.8 L120.0,536.8 L121.8,536.8 L121.8,540.2 L123.5,540.2 L126.5,540.2 L126.5,542.5 L129.4,542.5 L130.3,542.5 L130.3,545.5 L132.0,545.5 L132.0,548.4 L132.9,548.4 L134.1,548.4 L134.1,551.3 L136.4,551.3 L136.4,554.3 L137.6,554.3 L140.6,554.3 L140.6,556.6 L143.5,556.6 L145.2,556.6 L145.2,560.8 L147.0,560.8 L148.2,560.8 L148.2,562.5 L149.3,562.5 L168.7,562.5 L169.3,569.5 L232.6,569.5" fill="none" stroke="#0cc40c" stroke-width="3.2" stroke-linejoin="miter" stroke-linecap="butt"/><path d="M44.0,463.3 L46.0,471.3 M76.5,499.3 L77.5,505.3 M77.5,505.3 L79.3,513.0 M168.7,562.5 L169.3,569.5" fill="none" stroke="#0cc40c" stroke-width="4" stroke-linecap="round"/>
<line x1="157.5" y1="559.7" x2="157.5" y2="565.3" stroke="#0cc40c" stroke-width="1.6"/>
<line x1="163.4" y1="559.7" x2="163.4" y2="565.3" stroke="#0cc40c" stroke-width="1.6"/>
<line x1="178.7" y1="566.7" x2="178.7" y2="572.3" stroke="#0cc40c" stroke-width="1.6"/>
<line x1="193.9" y1="566.7" x2="193.9" y2="572.3" stroke="#0cc40c" stroke-width="1.6"/>
<line x1="229.1" y1="566.7" x2="229.1" y2="572.3" stroke="#0cc40c" stroke-width="1.6"/>
<line x1="231.5" y1="566.7" x2="231.5" y2="572.3" stroke="#0cc40c" stroke-width="1.6"/>
<path d="M40.2,453.1 L40.4,453.1 L40.4,456.0 L40.8,456.0 L40.8,458.9 L41.2,458.9 L41.2,461.8 L41.6,461.8 L41.6,464.6 L42.0,464.6 L42.0,467.5 L42.4,467.5 L42.4,470.4 L42.8,470.4 L42.8,473.3 L43.0,473.3 L43.3,473.3 L43.3,476.5 L43.9,476.5 L43.9,479.7 L44.5,479.7 L44.5,482.9 L45.1,482.9 L45.1,486.1 L45.7,486.1 L45.7,489.3 L46.0,489.3 L46.3,489.3 L46.3,492.5 L46.8,492.5 L46.8,495.7 L47.3,495.7 L47.3,498.9 L47.8,498.9 L47.8,502.1 L48.3,502.1 L48.3,505.3 L48.6,505.3 L48.8,505.3 L48.8,508.2 L49.3,508.2 L49.3,511.0 L49.8,511.0 L49.8,513.9 L50.3,513.9 L50.3,516.8 L50.5,516.8 L50.7,516.8 L50.7,519.7 L51.2,519.7 L51.2,522.6 L51.7,522.6 L51.7,525.5 L52.2,525.5 L52.2,528.4 L52.4,528.4 L52.6,528.4 L52.6,531.7 L53.0,531.7 L53.0,534.9 L53.3,534.9 L53.3,538.2 L53.7,538.2 L53.7,541.4 L54.1,541.4 L54.1,544.7 L54.3,544.7 L55.3,545.7 L61.1,545.7 L62.0,551.5 L62.3,551.5 L62.3,554.7 L63.0,554.7 L63.0,557.9 L63.7,557.9 L63.7,561.1 L64.0,561.1 L64.3,561.1 L64.3,563.7 L65.0,563.7 L65.0,566.2 L65.6,566.2 L65.6,568.8 L65.9,568.8 L66.2,568.8 L66.2,571.4 L66.8,571.4 L66.8,573.9 L67.5,573.9 L67.5,576.5 L67.8,576.5 L68.1,576.5 L68.1,579.0 L68.8,579.0 L68.8,581.6 L69.4,581.6 L69.4,584.1 L69.7,584.1 L70.7,588.8 L82.4,588.8 L83.2,594.1 L94.2,594.1 L94.7,600.5 L118.3,600.5 L118.8,607.6 L161.5,607.6" fill="none" stroke="#0000e0" stroke-width="3.2" stroke-linejoin="miter" stroke-linecap="butt"/><path d="M40.2,453.1 L43.0,473.3 M43.0,473.3 L46.0,489.3 M46.0,489.3 L48.6,505.3 M48.6,505.3 L50.5,516.8 M50.5,516.8 L52.4,528.4 M52.4,528.4 L54.3,544.7 M61.1,545.7 L62.0,551.5 M62.0,551.5 L64.0,561.1 M64.0,561.1 L65.9,568.8 M65.9,568.8 L67.8,576.5 M67.8,576.5 L69.7,584.1 M82.4,588.8 L83.2,594.1 M94.2,594.1 L94.7,600.5 M118.3,600.5 L118.8,607.6" fill="none" stroke="#0000e0" stroke-width="4" stroke-linecap="round"/>
<line x1="160.0" y1="604.8" x2="160.0" y2="610.4" stroke="#0000e0" stroke-width="1.6"/>
<path d="M320.5,453.9 L321.1,453.9 L321.1,456.7 L322.2,456.7 L322.2,459.5 L323.4,459.5 L323.4,462.3 L324.0,462.3 L324.5,462.3 L324.5,465.0 L325.5,465.0 L325.5,467.6 L326.5,467.6 L326.5,470.3 L327.0,470.3 L328.5,470.3 L328.5,474.3 L330.0,474.3 L334.0,475.3 L335.5,475.3 L335.5,479.3 L337.0,479.3 L337.8,479.3 L337.8,481.8 L339.2,481.8 L339.2,484.3 L340.0,484.3 L342.0,484.3 L342.0,488.3 L344.0,488.3 L346.0,488.3 L346.0,492.3 L348.0,492.3 L353.0,493.3 L354.5,493.3 L354.5,495.3 L356.0,495.3 L356.4,495.3 L356.4,497.8 L357.0,497.8 L357.0,500.3 L357.4,500.3 L358.5,505.3 L358.8,505.3 L358.8,507.9 L359.4,507.9 L359.4,510.4 L360.0,510.4 L360.0,513.0 L360.3,513.0 L361.3,513.0 L361.3,516.3 L363.2,516.3 L363.2,519.7 L364.2,519.7 L367.0,519.7 L367.0,523.6 L369.9,523.6 L372.8,523.6 L372.8,525.5 L375.7,525.5 L378.6,525.5 L378.6,528.4 L381.5,528.4 L383.4,528.4 L383.4,529.8 L385.3,529.8 L397.5,529.8 L399.1,529.8 L399.1,532.2 L400.7,532.2 L404.6,533.1 L407.5,533.1 L407.5,537.2 L410.4,537.2 L411.2,537.2 L411.2,540.1 L412.9,540.1 L412.9,543.0 L413.8,543.0 L415.0,543.0 L415.0,545.9 L417.3,545.9 L417.3,548.8 L418.5,548.8 L419.9,548.8 L419.9,551.1 L422.8,551.1 L422.8,553.4 L424.2,553.4 L425.9,553.4 L425.9,556.8 L427.7,556.8 L428.9,556.8 L428.9,558.0 L430.0,558.0 L447.8,558.0 L448.5,565.6 L513.1,565.6" fill="none" stroke="#0cc40c" stroke-width="3.2" stroke-linejoin="miter" stroke-linecap="butt"/><path d="M358.5,505.3 L360.3,513.0 M447.8,558.0 L448.5,565.6" fill="none" stroke="#0cc40c" stroke-width="4" stroke-linecap="round"/>
<line x1="436.9" y1="555.2" x2="436.9" y2="560.8" stroke="#0cc40c" stroke-width="1.6"/>
<line x1="442.7" y1="555.2" x2="442.7" y2="560.8" stroke="#0cc40c" stroke-width="1.6"/>
<line x1="459.5" y1="562.8" x2="459.5" y2="568.4" stroke="#0cc40c" stroke-width="1.6"/>
<line x1="473.8" y1="562.8" x2="473.8" y2="568.4" stroke="#0cc40c" stroke-width="1.6"/>
<line x1="509.6" y1="562.8" x2="509.6" y2="568.4" stroke="#0cc40c" stroke-width="1.6"/>
<line x1="511.9" y1="562.8" x2="511.9" y2="568.4" stroke="#0cc40c" stroke-width="1.6"/>
<path d="M320.5,453.1 L320.8,453.1 L320.8,456.3 L321.2,456.3 L321.2,459.6 L321.8,459.6 L321.8,462.8 L322.2,462.8 L322.2,466.1 L322.8,466.1 L322.8,469.3 L323.0,469.3 L323.3,469.3 L323.3,472.1 L323.9,472.1 L323.9,474.9 L324.5,474.9 L324.5,477.7 L325.1,477.7 L325.1,480.5 L325.7,480.5 L325.7,483.3 L326.0,483.3 L326.2,483.3 L326.2,486.4 L326.6,486.4 L326.6,489.6 L326.9,489.6 L326.9,492.7 L327.3,492.7 L327.3,495.9 L327.7,495.9 L327.7,499.0 L328.0,499.0 L328.0,502.2 L328.4,502.2 L328.4,505.3 L328.6,505.3 L328.9,505.3 L328.9,508.5 L329.6,508.5 L329.6,511.7 L330.2,511.7 L330.2,514.9 L330.5,514.9 L330.7,514.9 L330.7,517.8 L331.2,517.8 L331.2,520.7 L331.7,520.7 L331.7,523.6 L332.2,523.6 L332.2,526.5 L332.4,526.5 L332.6,526.5 L332.6,529.8 L333.0,529.8 L333.0,533.0 L333.4,533.0 L333.4,536.3 L333.7,536.3 L333.7,539.5 L334.1,539.5 L334.1,542.8 L334.3,542.8 L335.3,543.4 L342.0,543.4 L343.0,549.5 L343.5,549.5 L343.5,552.4 L344.4,552.4 L344.4,555.3 L344.9,555.3 L345.2,555.3 L345.2,557.9 L345.9,557.9 L345.9,560.4 L346.5,560.4 L346.5,563.0 L346.8,563.0 L347.8,573.6 L348.3,573.6 L348.3,576.4 L349.2,576.4 L349.2,579.3 L349.7,579.3 L350.7,580.9 L362.7,580.9 L363.2,588.0 L374.2,588.0 L374.7,596.6 L398.3,596.6 L398.8,605.8 L442.0,605.8" fill="none" stroke="#0000e0" stroke-width="3.2" stroke-linejoin="miter" stroke-linecap="butt"/><path d="M320.5,453.1 L323.0,469.3 M323.0,469.3 L326.0,483.3 M326.0,483.3 L328.6,505.3 M328.6,505.3 L330.5,514.9 M330.5,514.9 L332.4,526.5 M332.4,526.5 L334.3,542.8 M342.0,543.4 L343.0,549.5 M343.0,549.5 L344.9,555.3 M344.9,555.3 L346.8,563.0 M346.8,563.0 L347.8,573.6 M347.8,573.6 L349.7,579.3 M362.7,580.9 L363.2,588.0 M374.2,588.0 L374.7,596.6 M398.3,596.6 L398.8,605.8" fill="none" stroke="#0000e0" stroke-width="4" stroke-linecap="round"/>
<line x1="440.5" y1="603.0" x2="440.5" y2="608.6" stroke="#0000e0" stroke-width="1.6"/>
<path d="M40.2,668.3 L40.9,668.3 L40.9,671.8 L42.3,671.8 L42.3,675.3 L43.0,675.3 L43.5,675.3 L43.5,678.3 L44.5,678.3 L44.5,681.3 L45.0,681.3 L45.3,681.3 L45.3,684.0 L46.0,684.0 L46.0,686.6 L46.7,686.6 L46.7,689.3 L47.0,689.3 L48.0,697.3 L49.0,697.3 L49.0,701.3 L50.0,701.3 L52.0,701.3 L52.0,705.3 L54.0,705.3 L55.5,705.3 L55.5,709.3 L57.0,709.3 L58.0,709.3 L58.0,712.5 L60.0,712.5 L60.0,715.8 L61.0,715.8 L62.1,715.8 L62.1,718.5 L64.4,718.5 L64.4,721.3 L65.6,721.3 L66.3,721.3 L66.3,724.1 L67.0,724.1 L69.3,724.1 L69.3,727.0 L71.7,727.0 L74.1,727.0 L74.1,729.9 L76.5,729.9 L77.0,729.9 L77.0,732.8 L77.9,732.8 L77.9,735.7 L78.4,735.7 L78.9,735.7 L78.9,738.6 L79.8,738.6 L79.8,741.5 L80.3,741.5 L81.0,741.5 L81.0,744.3 L82.5,744.3 L82.5,747.2 L83.2,747.2 L84.4,747.2 L84.4,749.6 L86.8,749.6 L86.8,752.0 L88.0,752.0 L90.9,752.0 L90.9,754.0 L93.8,754.0 L95.7,754.0 L95.7,756.8 L97.6,756.8 L99.5,756.8 L99.5,758.8 L101.5,758.8 L103.4,758.8 L103.4,760.7 L105.3,760.7 L116.0,760.7 L117.4,760.7 L117.4,762.6 L118.8,762.6 L120.7,762.6 L120.7,765.5 L122.6,765.5 L124.7,766.1 L126.1,766.1 L126.1,768.4 L127.4,768.4 L129.4,769.1 L130.3,769.1 L130.3,771.7 L132.0,771.7 L132.0,774.3 L132.9,774.3 L135.9,774.3 L135.9,777.8 L138.8,777.8 L141.2,777.8 L141.2,781.3 L143.5,781.3 L145.8,781.3 L145.8,784.1 L148.2,784.1 L168.7,784.1 L169.3,790.2 L232.6,790.2" fill="none" stroke="#0cc40c" stroke-width="3.2" stroke-linejoin="miter" stroke-linecap="butt"/><path d="M45.0,681.3 L47.0,689.3 M47.0,689.3 L48.0,697.3 M76.5,729.9 L78.4,735.7 M78.4,735.7 L80.3,741.5 M168.7,784.1 L169.3,790.2" fill="none" stroke="#0cc40c" stroke-width="4" stroke-linecap="round"/>
<line x1="155.2" y1="781.3" x2="155.2" y2="786.9" stroke="#0cc40c" stroke-width="1.6"/>
<line x1="158.7" y1="781.3" x2="158.7" y2="786.9" stroke="#0cc40c" stroke-width="1.6"/>
<line x1="163.4" y1="781.3" x2="163.4" y2="786.9" stroke="#0cc40c" stroke-width="1.6"/>
<line x1="178.7" y1="787.4" x2="178.7" y2="793.0" stroke="#0cc40c" stroke-width="1.6"/>
<line x1="193.9" y1="787.4" x2="193.9" y2="793.0" stroke="#0cc40c" stroke-width="1.6"/>
<line x1="229.1" y1="787.4" x2="229.1" y2="793.0" stroke="#0cc40c" stroke-width="1.6"/>
<line x1="231.5" y1="787.4" x2="231.5" y2="793.0" stroke="#0cc40c" stroke-width="1.6"/>
<path d="M40.2,668.3 L43.0,668.3 L43.0,711.3 L49.5,711.3 L49.5,732.8 L52.4,732.8 L52.4,743.6 L53.4,743.6 L53.4,754.3 L54.3,754.3 L54.3,765.1 L60.9,765.1 L60.9,775.8 L62.0,775.8 L62.0,786.6 L64.0,786.6 L64.0,797.3 L66.8,797.3 L66.8,808.1 L68.8,808.1 L68.8,818.8 L94.3,818.8 L94.3,829.5" fill="none" stroke="#0000e0" stroke-width="3.2" stroke-linejoin="miter" stroke-linecap="butt"/>

<path d="M320.5,668.3 L321.2,668.3 L321.2,672.3 L322.0,672.3 L322.6,672.3 L322.6,674.8 L323.9,674.8 L323.9,677.3 L324.5,677.3 L324.9,677.3 L324.9,680.0 L325.9,680.0 L325.9,682.7 L326.3,682.7 L326.6,682.7 L326.6,685.5 L327.2,685.5 L327.2,688.2 L327.8,688.2 L327.8,691.0 L328.1,691.0 L329.0,691.0 L329.0,694.6 L330.9,694.6 L330.9,698.3 L331.8,698.3 L332.9,698.3 L332.9,702.0 L335.2,702.0 L335.2,705.7 L336.4,705.7 L337.5,705.7 L337.5,709.3 L339.9,709.3 L339.9,713.0 L341.0,713.0 L342.4,713.0 L342.4,716.2 L345.1,716.2 L345.1,719.5 L346.5,719.5 L348.0,719.5 L348.0,723.2 L349.5,723.2 L354.5,723.2 L355.2,723.2 L355.2,725.6 L356.7,725.6 L356.7,728.0 L357.4,728.0 L357.9,728.0 L357.9,731.3 L358.8,731.3 L358.8,734.7 L359.3,734.7 L360.0,734.7 L360.0,738.1 L361.5,738.1 L361.5,741.5 L362.2,741.5 L363.2,741.5 L363.2,743.9 L365.1,743.9 L365.1,746.3 L366.1,746.3 L369.0,746.3 L369.0,749.1 L371.8,749.1 L374.7,749.1 L374.7,751.1 L377.6,751.1 L380.5,751.1 L380.5,754.0 L383.4,754.0 L387.2,754.9 L395.0,754.9 L396.9,754.9 L396.9,757.8 L398.8,757.8 L400.7,757.8 L400.7,760.7 L402.6,760.7 L404.6,761.8 L406.0,761.8 L406.0,763.6 L407.4,763.6 L408.9,763.6 L408.9,765.3 L410.4,765.3 L411.2,765.3 L411.2,767.6 L412.9,767.6 L412.9,769.9 L413.8,769.9 L416.1,769.9 L416.1,773.8 L418.5,773.8 L421.4,773.8 L421.4,775.7 L424.2,775.7 L425.9,775.7 L425.9,779.1 L427.7,779.1 L428.9,779.1 L428.9,780.8 L430.0,780.8 L447.8,780.8 L448.5,787.2 L513.1,787.2" fill="none" stroke="#0cc40c" stroke-width="3.2" stroke-linejoin="miter" stroke-linecap="butt"/><path d="M326.3,682.7 L328.1,691.0 M357.4,728.0 L359.3,734.7 M447.8,780.8 L448.5,787.2" fill="none" stroke="#0cc40c" stroke-width="4" stroke-linecap="round"/>
<line x1="436.9" y1="778.0" x2="436.9" y2="783.6" stroke="#0cc40c" stroke-width="1.6"/>
<line x1="442.7" y1="778.0" x2="442.7" y2="783.6" stroke="#0cc40c" stroke-width="1.6"/>
<line x1="459.5" y1="784.4" x2="459.5" y2="790.0" stroke="#0cc40c" stroke-width="1.6"/>
<line x1="473.8" y1="784.4" x2="473.8" y2="790.0" stroke="#0cc40c" stroke-width="1.6"/>
<line x1="509.6" y1="784.4" x2="509.6" y2="790.0" stroke="#0cc40c" stroke-width="1.6"/>
<line x1="511.9" y1="784.4" x2="511.9" y2="790.0" stroke="#0cc40c" stroke-width="1.6"/>
<path d="M320.5,668.3 L323.4,668.3 L323.4,700.5 L329.4,700.5 L329.4,732.8 L332.6,732.8 L332.6,748.9 L333.4,748.9 L333.4,765.0 L342.0,765.0 L342.0,781.1 L344.9,781.1 L344.9,797.3 L350.7,797.3 L350.7,813.4 L374.3,813.4 L374.3,829.5" fill="none" stroke="#0000e0" stroke-width="3.2" stroke-linejoin="miter" stroke-linecap="butt"/>

<line x1="145.3" y1="36.3" x2="160.6" y2="36.3" stroke="#0cc40c" stroke-width="3"/>
<line x1="145.3" y1="46.9" x2="160.6" y2="46.9" stroke="#0000e0" stroke-width="3"/>
<text x="165.8" y="38.8" font-size="8.8" letter-spacing="0.2" fill="#333">0 lesions (n=40)</text>
<text x="165.8" y="49.2" font-size="8.8" letter-spacing="0.2" fill="#333">≥1 lesion (n=74)</text>
<line x1="422.3" y1="36.6" x2="437.6" y2="36.6" stroke="#0cc40c" stroke-width="3"/>
<line x1="422.3" y1="47.9" x2="437.6" y2="47.9" stroke="#0000e0" stroke-width="3"/>
<text x="442.5" y="39.8" font-size="8.8" letter-spacing="0.2" fill="#333">0 lesions (n=35)</text>
<text x="442.5" y="50.8" font-size="8.8" letter-spacing="0.2" fill="#333">≥1 lesion (n=62)</text>
<line x1="142.3" y1="249.8" x2="157.6" y2="249.8" stroke="#0cc40c" stroke-width="3"/>
<line x1="142.3" y1="260.8" x2="157.6" y2="260.8" stroke="#0000e0" stroke-width="3"/>
<text x="162.8" y="252.9" font-size="8.8" letter-spacing="0.2" fill="#333">≤1 lesion (n=70)</text>
<text x="162.8" y="263.5" font-size="8.8" letter-spacing="0.2" fill="#333">≥2 lesions (n=44)</text>
<line x1="420.6" y1="251.0" x2="435.9" y2="251.0" stroke="#0cc40c" stroke-width="3"/>
<line x1="420.6" y1="262.1" x2="435.9" y2="262.1" stroke="#0000e0" stroke-width="3"/>
<text x="441.0" y="253.9" font-size="8.8" letter-spacing="0.2" fill="#333">≤1 lesion (n=62)</text>
<text x="441.0" y="264.5" font-size="8.8" letter-spacing="0.2" fill="#333">≥2 lesions (n=35)</text>
<line x1="143.2" y1="459.5" x2="158.5" y2="459.5" stroke="#0cc40c" stroke-width="3"/>
<line x1="143.2" y1="470.5" x2="158.5" y2="470.5" stroke="#0000e0" stroke-width="3"/>
<text x="163.7" y="462.3" font-size="8.8" letter-spacing="0.2" fill="#333">≤2 lesions (n=79)</text>
<text x="163.7" y="472.9" font-size="8.8" letter-spacing="0.2" fill="#333">≥3 lesions (n=35)</text>
<line x1="422.3" y1="457.5" x2="437.6" y2="457.5" stroke="#0cc40c" stroke-width="3"/>
<line x1="422.3" y1="468.1" x2="437.6" y2="468.1" stroke="#0000e0" stroke-width="3"/>
<text x="443.1" y="460.4" font-size="8.8" letter-spacing="0.2" fill="#333">≤2 lesions (n=70)</text>
<text x="443.1" y="471.0" font-size="8.8" letter-spacing="0.2" fill="#333">≥3 lesions (n=27)</text>
<line x1="137.2" y1="672.5" x2="152.5" y2="672.5" stroke="#0cc40c" stroke-width="3"/>
<line x1="137.2" y1="683.1" x2="152.5" y2="683.1" stroke="#0000e0" stroke-width="3"/>
<text x="158.3" y="675.4" font-size="8.8" letter-spacing="0.2" fill="#333">≤9 lesions (n=99)</text>
<text x="158.3" y="685.7" font-size="8.8" letter-spacing="0.2" fill="#333">≥10 lesions (n=15)</text>
<line x1="417.2" y1="672.8" x2="432.5" y2="672.8" stroke="#0cc40c" stroke-width="3"/>
<line x1="417.2" y1="683.5" x2="432.5" y2="683.5" stroke="#0000e0" stroke-width="3"/>
<text x="437.5" y="675.4" font-size="8.8" letter-spacing="0.2" fill="#333">≤9 lesions (n=87)</text>
<text x="437.5" y="685.9" font-size="8.8" letter-spacing="0.2" fill="#333">≥10 lesions (n=10)</text>
<text x="132.2" y="194.5" font-size="11.8" class="t">HR=1.99; <tspan font-style="italic">P</tspan> = .008</text>
<text x="415.7" y="194.2" font-size="11.8" class="t">HR=1.94; <tspan font-style="italic">P</tspan> = .018</text>
<text x="135.4" y="410.5" font-size="11.8" class="t">HR=3.83; P&lt;0.001</text>
<text x="415.4" y="409.2" font-size="11.8" class="t">HR=3.58; P&lt;0.001</text>
<text x="136.0" y="618.5" font-size="11.8" class="t">HR=3.77; P&lt;0.001</text>
<text x="415.4" y="617.6" font-size="11.8" class="t">HR=3.56; P&lt;0.001</text>
<text x="136.9" y="831.4" font-size="11.8" class="t">HR=3.73; P&lt;0.001</text>
<text x="414.6" y="830.0" font-size="11.8" class="t">HR=3.76; P&lt;0.001</text>
<text x="0.0" y="20.4" font-size="25" font-weight="bold">A</text>
<text x="0.3" y="238.7" font-size="25" font-weight="bold">B</text>
<text x="0.0" y="447.3" font-size="25" font-weight="bold">C</text>
<text x="-0.2" y="658.3" font-size="25" font-weight="bold">D</text>
<text x="281.9" y="20.2" font-size="25" font-weight="bold">E</text>
<text x="282.3" y="238.8" font-size="25" font-weight="bold">F</text>
<text x="281.1" y="447.3" font-size="25" font-weight="bold">G</text>
<text x="281.4" y="658.5" font-size="25" font-weight="bold">H</text>
<text transform="translate(87.6,13.7) scale(1.03,0.97)" font-size="18">All Treatment</text>
<text transform="translate(337.6,13.7) scale(1.03,0.97)" font-size="18">Intensive Treatment</text>
<text x="110.1" y="866.4" font-size="11.8" class="t">Time (days)</text>
<text x="402.9" y="866.4" font-size="11.8" class="t">Time (days)</text>
</svg>
</body></html>
